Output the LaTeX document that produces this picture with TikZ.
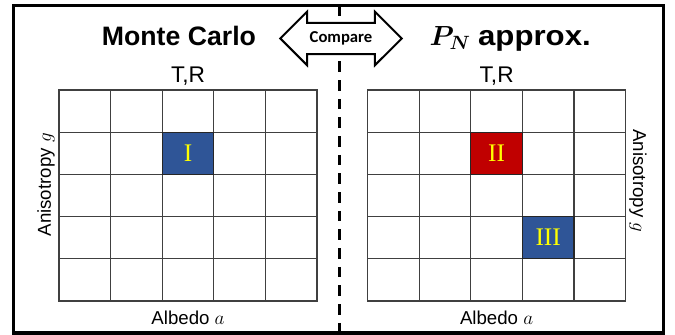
\documentclass[tikz,border=0pt]{standalone}
\usepackage{fontspec}
\setmainfont{Liberation Sans}
\newfontfamily\numfont{Liberation Serif}
\newfontfamily\cmpfont{Carlito}
\usepackage{bm}
\usetikzlibrary{positioning,shapes.arrows}
\definecolor{cellblue}{HTML}{2F5597}
\definecolor{cellred}{HTML}{C00000}
\definecolor{numyellow}{HTML}{FFFF00}

\begin{document}
\begin{tikzpicture}[x=0.75pt,y=0.75pt,
    cell/.style={draw=black!75,line width=0.9pt,minimum width=38.7pt,minimum height=31.65pt,inner sep=0pt,outer sep=0pt},
    hit/.style={draw=black!85,text=numyellow,font=\numfont\fontsize{19}{22}\selectfont},
    title/.style={inner sep=0pt,text height=15pt,text depth=4pt,font=\bfseries\fontsize{20}{24}\selectfont},
    axis label/.style={inner sep=0pt,font=\fontsize{14}{17}\selectfont},
    top label/.style={inner sep=0pt,font=\fontsize{17}{20}\selectfont},
    cmp arrow/.style={double arrow,draw,fill=white,line width=1.5pt,minimum height=91pt,
        minimum width=38.3pt,double arrow head extend=8.25pt,inner xsep=3pt,inner ysep=5.5pt,
        text height=8.5pt,text depth=2.6pt,font=\cmpfont\bfseries\fontsize{12.5}{15}\selectfont}]
    \useasboundingbox (0,0) rectangle (675,335);

    % frame and divider
    \draw[line width=2.4pt] (13.5,2) rectangle (663.5,329.5);
    \coordinate (divtop) at (339.5,329.5);
    \coordinate (divbot) at (339.5,2);
    \draw[line width=1.9pt,dash pattern=on 8pt off 6pt] (divtop) -- (divbot);

    % the two 5x5 tables
    \foreach \c in {1,...,5}
        \foreach \r in {1,...,5} {
            \node[cell] (L-\c-\r) at ({59+(\c-0.5)*51.6},{245-(\r-0.5)*42.2}) {};
            \node[cell] (R-\c-\r) at ({367.6+(\c-0.5)*51.6},{245-(\r-0.5)*42.2}) {};
        }
    \node[cell,hit,fill=cellblue] (I) at (L-3-2) {I};
    \node[cell,hit,fill=cellred] (II) at (R-3-2) {II};
    \node[cell,hit,fill=cellblue] (III) at (R-4-4) {III};

    % headings
    \node[cmp arrow] (cmp) at (341,296.5) {Compare};
    \node[title] (mc) [left=17pt of cmp] {Monte Carlo};
    \node[title] (pn) [right=19.7pt of cmp] {{\fontsize{22}{24}\selectfont$\bm{P_N}$} \scalebox{1.17}[1.05]{approx.}};

    \node[top label] (trL) [above=3.5pt of L-3-1] {T,R};
    \node[top label] (trR) [above=3.5pt of R-3-1] {T,R};
    \node[axis label] (alL) [below=7pt of L-3-5] {Albedo $a$};
    \node[axis label] (alR) [below=7pt of R-3-5] {Albedo $a$};
    \node[axis label,yshift=8pt,rotate=90,left=3pt of L-1-3,anchor=south] (anL) {Anisotropy $g$};
    \node[axis label,yshift=11pt,rotate=-90,right=2.5pt of R-5-3,anchor=south] (anR) {Anisotropy $g$};
\end{tikzpicture}
\end{document}
